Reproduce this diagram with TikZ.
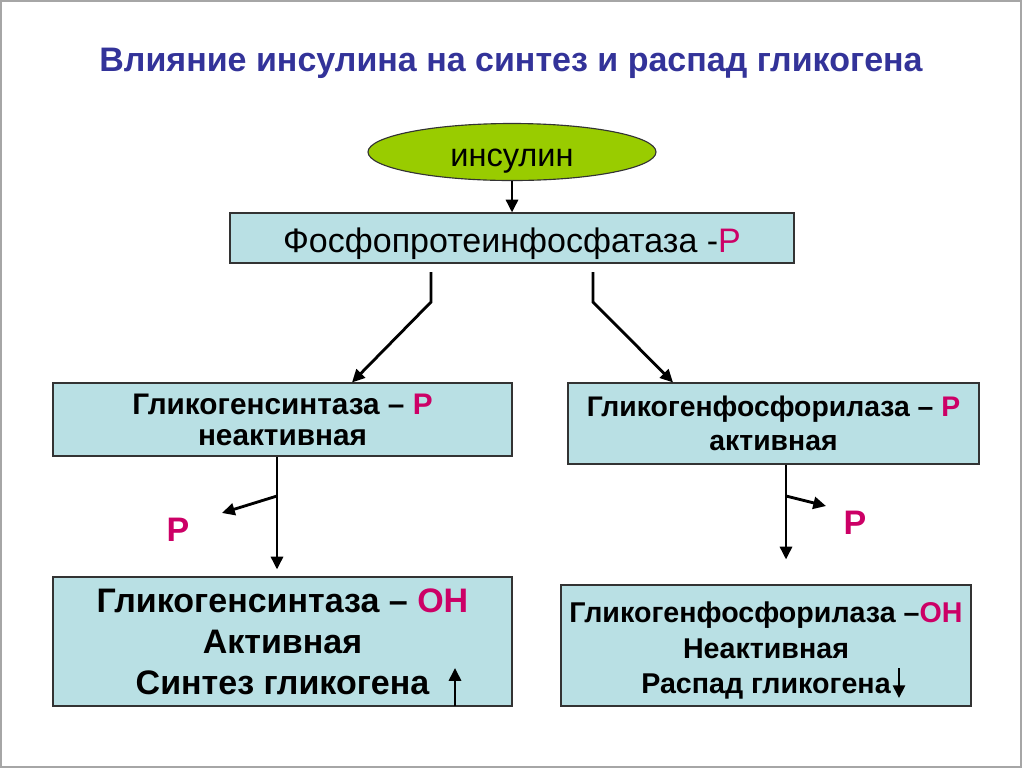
\documentclass[tikz,border=0pt]{standalone}
\usepackage{fontspec}
\setmainfont{Liberation Sans}
\usetikzlibrary{calc,positioning,arrows.meta,shapes.geometric}
\definecolor{titleblue}{RGB}{51,51,153}
\definecolor{boxblue}{RGB}{185,224,228}
\definecolor{limegreen}{RGB}{153,204,0}
\definecolor{pmag}{RGB}{204,0,102}
\newcommand{\Pm}[1]{\textcolor{pmag}{#1}}
\def\pxu{0.7058pt}

\begin{document}
\begin{tikzpicture}[x=\pxu,y=-\pxu]

\tikzset{bluebox/.style={draw=black!80,fill=boxblue,line width=0.8pt,inner sep=0pt,align=center},
ovalnode/.style={shape=ellipse,draw=black!80,fill=limegreen,line width=0.8pt,inner sep=0pt,font=\fontsize{23}{27}\selectfont},
arr/.style={line width=2pt,-{Triangle[length=9pt,width=8.5pt]}}}

% Frame
\useasboundingbox (0,0) rectangle (1024,768);
\draw[gray!70,line width=1.5pt] (1,1) rectangle (1021,767);

% Title
\node[font=\bfseries\fontsize{24}{28}\selectfont,text=titleblue] (title) at (511,63) {Влияние инсулина на синтез и распад гликогена};

% Insulin and phosphatase
\node[ovalnode,minimum width=288*\pxu,minimum height=57*\pxu,text height=21pt,text depth=0pt] (ins) at (512,152) {инсулин};
\node[bluebox,minimum width=564*\pxu,minimum height=50*\pxu,text height=21pt,text depth=0pt,font=\fontsize{24}{28}\selectfont] (ppf) at (512,238) {Фосфопротеинфосфатаза -\Pm{Р}};

% Enzymes with phosphate
\node[bluebox,minimum width=459*\pxu,minimum height=73*\pxu,font=\bfseries\fontsize{21}{22}\selectfont] (gsP) at (282.5,419.5) {Гликогенсинтаза -- \Pm{Р}\\неактивная};
\node[bluebox,minimum width=411*\pxu,minimum height=81*\pxu,font=\bfseries\fontsize{20}{24}\selectfont] (gfP) at (773.5,423.5) {Гликогенфосфорилаза -- \Pm{Р}\\активная};

% Enzymes without phosphate
\node[bluebox,minimum width=459*\pxu,minimum height=129*\pxu,font=\bfseries\fontsize{24}{29}\selectfont] (gsOH) at (282.5,641.5) {Гликогенсинтаза -- \Pm{ОН}\\Активная\\Синтез гликогена};
\node[bluebox,minimum width=410*\pxu,minimum height=121*\pxu,font=\bfseries\fontsize{20.2}{25}\selectfont] (gfOH) at (766,645.5) {\rule{0pt}{21.7pt}Гликогенфосфорилаза --\Pm{ОН}\\Неактивная\\Распад гликогена};

% Released phosphate
\node[font=\bfseries\fontsize{24}{28}\selectfont,text=pmag] (pL) at (178,530) {Р};
\node[font=\bfseries\fontsize{24}{28}\selectfont,text=pmag] (pR) at (855,523) {Р};

% Bend points
\coordinate (l1) at (431,272); \coordinate (l2) at (431,302);
\coordinate (r1) at (593,272); \coordinate (r2) at (593,302);
\coordinate (lb) at (277,496); \coordinate (lp) at (222,513);
\coordinate (rb) at (786,496); \coordinate (rp) at (826,506);
\coordinate (up1) at (455,706); \coordinate (up2) at (455,668);
\coordinate (dn1) at (899,668); \coordinate (dn2) at (899,698);

% Arrows
\draw[arr] (ins.south) -- (ppf.north);
\draw[arr,line join=miter] (l1) -- (l2) -- (gsP.north -| 352,0);
\draw[arr,line join=miter] (r1) -- (r2) -- (gfP.north -| 673,0);
\draw[arr] (gsP.south -| lb) -- ($(gsOH.north -| lb)+(0,-7)$);
\draw[arr] (lb) -- (lp);
\draw[arr] (gfP.south -| rb) -- ($(gfOH.north -| rb)+(0,-25)$);
\draw[arr] (rb) -- (rp);
\draw[arr] (up1) -- (up2);
\draw[arr] (dn1) -- (dn2);

\end{tikzpicture}
\end{document}
